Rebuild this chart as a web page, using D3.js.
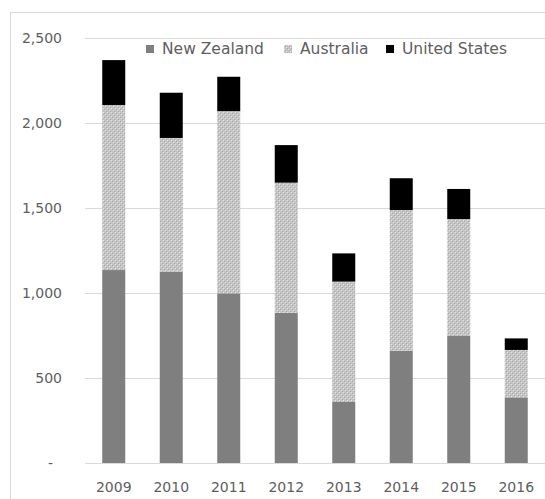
<!DOCTYPE html>
<html>
<head>
<meta charset="utf-8">
<script src="https://cdn.jsdelivr.net/npm/d3@7"></script>
<style>
  html, body { margin: 0; padding: 0; background: #fff; }
  svg { display: block; }
  text { font-family: "DejaVu Sans", sans-serif; fill: #5e5e5e; }
</style>
</head>
<body>
<svg id="chart" width="545" height="499"></svg>
<script>
// Yearly values by country (stacked)
const years = ["2009", "2010", "2011", "2012", "2013", "2014", "2015", "2016"];
const newZealand   = [1135, 1125, 998, 884, 359, 661, 747, 386];
const australia    = [971, 787, 1072, 765, 708, 827, 688, 279];
const unitedStates = [264, 266, 202, 221, 166, 187, 177, 68];
const seriesNames  = ["New Zealand", "Australia", "United States"];
const yTicks = [0, 500, 1000, 1500, 2000, 2500];

const svg = d3.select("#chart");
const margin = { top: 38, right: 0, bottom: 36, left: 85 };
const width = 545 - margin.left - margin.right;
const height = 463 - margin.top;

// Hatched fill for Australia
const defs = svg.append("defs");
const pat = defs.append("pattern")
  .attr("id", "hatch")
  .attr("patternUnits", "userSpaceOnUse")
  .attr("width", 4).attr("height", 4);
pat.append("rect").attr("width", 4).attr("height", 4).attr("fill", "#c4c4c4");
pat.append("rect").attr("x", 0).attr("y", 0).attr("width", 1).attr("height", 1).attr("fill", "#e6e6e6");
pat.append("rect").attr("x", 2).attr("y", 2).attr("width", 1).attr("height", 1).attr("fill", "#e6e6e6");
pat.append("rect").attr("x", 1).attr("y", 1).attr("width", 1).attr("height", 1).attr("fill", "#a8a8a8");
pat.append("rect").attr("x", 3).attr("y", 3).attr("width", 1).attr("height", 1).attr("fill", "#a8a8a8");

const colors = ["#7f7f7f", "url(#hatch)", "#000000"];

// Outer chart frame
svg.append("rect")
  .attr("x", 10.5).attr("y", 12.5)
  .attr("width", 545).attr("height", 500)
  .attr("fill", "none").attr("stroke", "#d9d9d9");

const g = svg.append("g").attr("transform", `translate(${margin.left},${margin.top})`);

const x = d3.scaleBand().domain(years).range([0, width]).paddingInner(0.6).paddingOuter(0.3);
const y = d3.scaleLinear().domain([0, 2500]).range([height, 0]);

// Gridlines
g.append("g")
  .selectAll("line")
  .data(yTicks.filter(d => d > 0))
  .join("line")
  .attr("x1", 0).attr("x2", width)
  .attr("y1", d => Math.round(y(d)) + 0.5).attr("y2", d => Math.round(y(d)) + 0.5)
  .attr("stroke", "#d9d9d9").attr("stroke-width", 1);

// Y axis labels (zero shown as a dash, accounting style)
const yAxis = d3.axisLeft(y).tickValues(yTicks).tickSize(0).tickPadding(23)
  .tickFormat(d => d === 0 ? "-" : d3.format(",")(d));
const ya = g.append("g").call(yAxis);
ya.select(".domain").remove();
ya.selectAll("text").style("font-size", "14px").attr("fill", "#5e5e5e").style("font-family", "DejaVu Sans");
ya.selectAll(".tick").filter(d => d === 0).select("text").attr("dx", -9);

// Stacked bars
const rows = years.map((yr, i) => ({
  year: yr,
  "New Zealand": newZealand[i],
  "Australia": australia[i],
  "United States": unitedStates[i]
}));
const stacked = d3.stack().keys(seriesNames)(rows);

g.append("g")
  .selectAll("g")
  .data(stacked)
  .join("g")
  .attr("fill", (d, i) => colors[i])
  .selectAll("rect")
  .data(d => d)
  .join("rect")
  .attr("x", d => x(d.data.year))
  .attr("width", x.bandwidth())
  .attr("y", d => y(d[1]))
  .attr("height", d => y(d[0]) - y(d[1]));

// Baseline
g.append("line")
  .attr("x1", 0).attr("x2", width)
  .attr("y1", height + 0.5).attr("y2", height + 0.5)
  .attr("stroke", "#d9d9d9");

// X axis labels
const xAxis = d3.axisBottom(x).tickSize(0).tickPadding(19);
const xa = g.append("g").attr("transform", `translate(0,${height})`).call(xAxis);
xa.select(".domain").remove();
xa.selectAll("text").style("font-size", "14px").attr("fill", "#5e5e5e").style("font-family", "DejaVu Sans");

// Legend
const legendX = [146, 284, 386];
const legend = svg.append("g");
seriesNames.forEach((name, i) => {
  const lg = legend.append("g").attr("transform", `translate(${legendX[i]},45)`);
  lg.append("rect").attr("width", 8).attr("height", 8).attr("fill", colors[i]);
  lg.append("text").attr("x", 16).attr("y", 4).attr("dy", "0.35em")
    .style("font-size", "15.5px").text(name);
});
</script>
</body>
</html>
